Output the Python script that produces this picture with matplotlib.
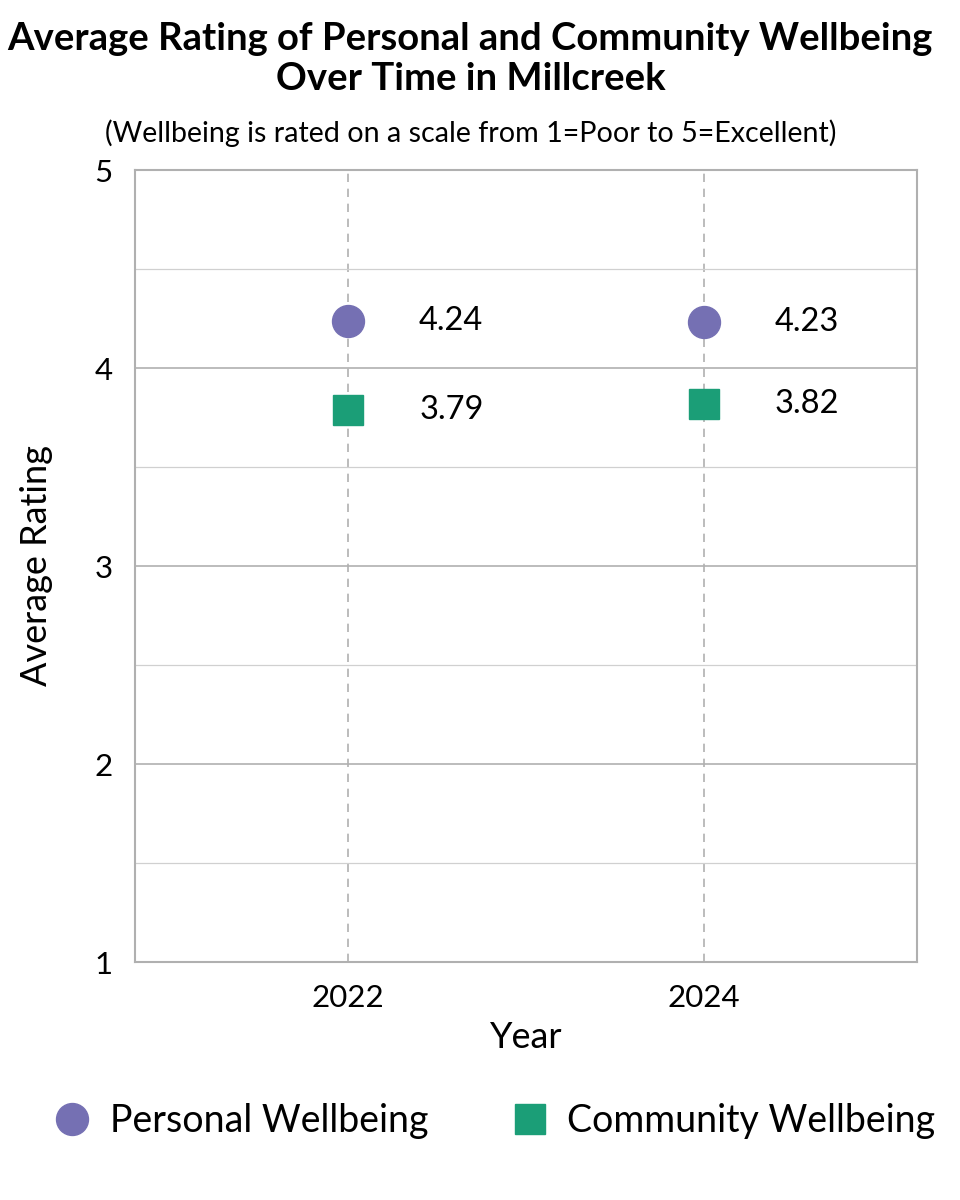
import matplotlib.pyplot as plt
from matplotlib.ticker import MultipleLocator

plt.rcParams['font.family'] = ['Lato', 'DejaVu Sans']

years = [2022, 2024]
personal = [4.24, 4.23]
community = [3.79, 3.82]
series_names = ['Personal Wellbeing', 'Community Wellbeing']

purple = '#7570b3'
green = '#1b9e77'

fig = plt.figure(figsize=(9.6, 12), dpi=100)
ax = fig.add_axes([0.1406, 0.1983, 0.8146, 0.66])

ax.plot(years, personal, 'o', color=purple, markersize=23, label=series_names[0], zorder=3)
ax.plot(years, community, 's', color=green, markersize=21, label=series_names[1], zorder=3)

# value labels to the right of each point
for x, p, c in zip(years, personal, community):
    ax.annotate(f'{p:.2f}', (x, p), xytext=(51, 0), textcoords='offset points',
                va='center', ha='left', fontsize=23.5)
    ax.annotate(f'{c:.2f}', (x, c), xytext=(51, 0), textcoords='offset points',
                va='center', ha='left', fontsize=23.5)

ax.set_xlim(2020.8, 2025.2)
ax.set_ylim(1, 5)
ax.set_xticks(years)
ax.yaxis.set_major_locator(MultipleLocator(1))
ax.yaxis.set_minor_locator(MultipleLocator(0.5))
ax.grid(axis='y', which='major', color='#b0b0b0', linewidth=1.2)
ax.grid(axis='y', which='minor', color='#d0d0d0', linewidth=0.9)
ax.grid(axis='x', which='major', color='#b0b0b0', linewidth=1.2, linestyle=(0, (5, 4)))
ax.set_axisbelow(True)
ax.tick_params(axis='both', which='both', length=0, labelsize=22.5)
ax.tick_params(axis='y', pad=16)
ax.tick_params(axis='x', pad=16)
for s in ax.spines.values():
    s.set_color('#b0b0b0')
    s.set_linewidth(1.5)

ax.set_xlabel('Year', fontsize=26, labelpad=6)
ax.set_ylabel('Average Rating', fontsize=26, labelpad=30)

fig.text(0.49, 0.951, 'Average Rating of Personal and Community Wellbeing\nOver Time in Millcreek',
         ha='center', va='center', fontsize=27.5, fontweight='bold', linespacing=1.2)
fig.text(0.49, 0.889, '(Wellbeing is rated on a scale from 1=Poor to 5=Excellent)',
         ha='center', va='center', fontsize=20.6)

fig.legend(loc='center', bbox_to_anchor=(0.515, 0.066), ncol=2, frameon=False,
           fontsize=27, handlelength=1.0, handletextpad=0.5, columnspacing=2.2,
           markerscale=1.0)

fig.savefig('out.png', dpi=100)
